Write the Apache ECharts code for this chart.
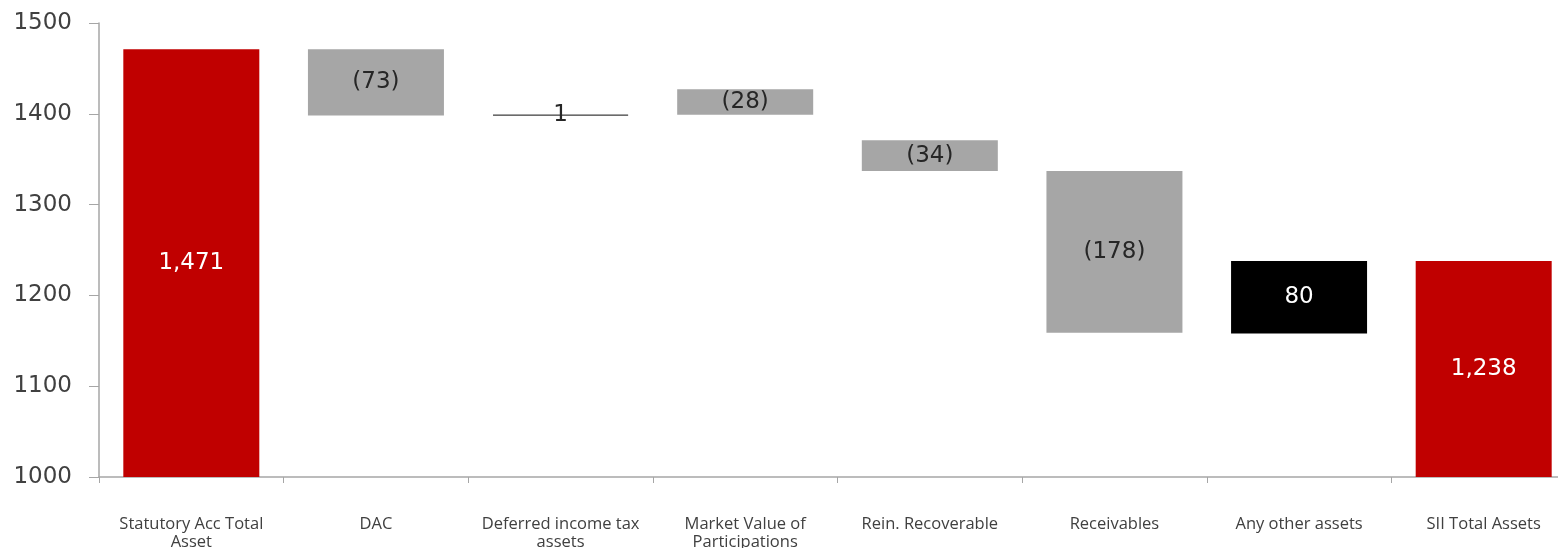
<!DOCTYPE html>
<html>
<head>
<meta charset="utf-8">
<script src="https://cdn.jsdelivr.net/npm/echarts@6/dist/echarts.min.js"></script>
<style>
  html, body { margin: 0; padding: 0; background: #fff; overflow: hidden; }
  /* the source chart runs a little past the right edge of the picture */
  #main { width: 1577px; height: 548px; }
</style>
</head>
<body>
<div id="main"></div>
<script>
var categories = ['Statutory Acc Total\nAsset', 'DAC', 'Deferred income tax\nassets', 'Market Value of\nParticipations',
                  'Rein. Recoverable', 'Receivables', 'Any other assets', 'SII Total Assets'];
// signed change shown in the labels
var changes = [1471, -73, 1, -28, -34, -178, 80, 1238];
// where each floating bar starts
var bases = [0, 1398, 1398, 1399, 1337, 1159, 1158, 0];
var kinds = ['total', 'neg', 'line', 'neg', 'neg', 'neg', 'pos', 'total'];
var yTicks = [1000, 1100, 1200, 1300, 1400, 1500];

var fill = { total: '#c00000', neg: '#a6a6a6', pos: '#000000', line: '#595959' };
var txt = { total: '#ffffff', neg: '#262626', pos: '#ffffff', line: '#262626' };

function fmt(v) {
    var s = Math.abs(v).toLocaleString('en-US');
    return v < 0 ? '(' + s + ')' : s;
}

var chart = echarts.init(document.getElementById('main'));

var visible = changes.map(function (v, i) {
    return {
        value: Math.abs(v),
        itemStyle: {
            color: fill[kinds[i]],
            borderColor: kinds[i] == 'line' ? fill.line : 'transparent',
            borderWidth: kinds[i] == 'line' ? 1 : 0
        },
        label: { color: txt[kinds[i]] }
    };
});

var option = {
    backgroundColor: '#fff',
    animation: false,
    grid: { left: 99, top: 23, right: 1, bottom: 71, outerBoundsMode: 'none' },
    xAxis: {
        type: 'category',
        data: categories,
        axisLine: { lineStyle: { color: '#a6a6a6', width: 1.5 } },
        axisTick: { show: true, length: 6, lineStyle: { color: '#a6a6a6' } },
        axisLabel: {
            interval: 0, margin: 38, color: '#404040',
            fontFamily: 'Open Sans', fontSize: 16.5, lineHeight: 18
        }
    },
    yAxis: {
        type: 'value',
        min: yTicks[0],
        max: yTicks[yTicks.length - 1],
        interval: 100,
        splitLine: { show: false },
        axisLine: { show: true, lineStyle: { color: '#a6a6a6', width: 1.5 } },
        axisTick: { show: true, length: 10, lineStyle: { color: '#a6a6a6' } },
        axisLabel: {
            margin: 27, color: '#404040',
            fontFamily: 'DejaVu Sans', fontSize: 23,
            formatter: function (v) { return String(v); }
        }
    },
    series: [{
        type: 'bar',
        stack: 'wf',
        data: bases,
        barWidth: 136,
        itemStyle: { color: 'transparent' },
        silent: true
    }, {
        type: 'bar',
        stack: 'wf',
        data: visible,
        barWidth: 136,
        label: {
            show: true,
            position: 'inside',
            fontFamily: 'DejaVu Sans',
            fontSize: 23,
            formatter: function (p) { return fmt(changes[p.dataIndex]); }
        }
    }]
};
chart.setOption(option);
</script>
</body>
</html>
